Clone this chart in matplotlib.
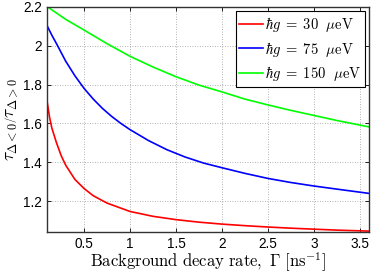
import matplotlib
matplotlib.use("Agg")
import matplotlib.pyplot as plt

plt.rcParams['mathtext.fontset'] = 'cm'
plt.rcParams['font.family'] = ['Liberation Sans', 'DejaVu Sans']

gamma_red = [0.1, 0.125, 0.15, 0.2, 0.25, 0.3, 0.4, 0.5, 0.6, 0.75, 1.0, 1.25, 1.5,
             1.75, 2.0, 2.25, 2.5, 2.75, 3.0, 3.25, 3.6]
ratio_red = [1.705, 1.63, 1.575, 1.50, 1.435, 1.385, 1.312, 1.265, 1.228, 1.19, 1.147,
             1.122, 1.105, 1.092, 1.082, 1.074, 1.067, 1.061, 1.056, 1.051, 1.046]

gamma_blue = [0.1, 0.15, 0.2, 0.3, 0.4, 0.5, 0.6, 0.7, 0.8, 0.9, 1.0, 1.2, 1.4, 1.6,
              1.8, 2.0, 2.25, 2.5, 2.75, 3.0, 3.25, 3.6]
ratio_blue = [2.10, 2.053, 2.01, 1.92, 1.845, 1.78, 1.725, 1.677, 1.636, 1.60, 1.568,
              1.512, 1.465, 1.427, 1.396, 1.372, 1.343, 1.317, 1.296, 1.278, 1.262, 1.24]

gamma_green = [0.1, 0.3, 0.5, 0.75, 1.0, 1.25, 1.5, 1.75, 2.0, 2.25, 2.5, 2.75, 3.0,
               3.25, 3.6]
ratio_green = [2.20, 2.135, 2.08, 2.01, 1.945, 1.89, 1.84, 1.797, 1.762, 1.725, 1.695,
               1.667, 1.641, 1.615, 1.582]

labels = [r'$\hbar g\;=\;30\ \ \mu\mathrm{eV}$',
          r'$\hbar g\;=\;75\ \ \mu\mathrm{eV}$',
          r'$\hbar g\;=\;150\ \ \mu\mathrm{eV}$']
colors = ['#ff0000', '#0000ff', '#00ff00']

xticks = [0.5, 1, 1.5, 2, 2.5, 3, 3.5]
xticklabels = ['0.5', '1', '1.5', '2', '2.5', '3', '3.5']
yticks = [1.2, 1.4, 1.6, 1.8, 2.0, 2.2]
yticklabels = ['1.2', '1.4', '1.6', '1.8', '2', '2.2']

fig = plt.figure(figsize=(3.74, 2.75), dpi=100)
ax = fig.add_axes([0.1265, 0.1575, 0.86, 0.818])

for g, r, c, lab in zip([gamma_red, gamma_blue, gamma_green],
                        [ratio_red, ratio_blue, ratio_green], colors, labels):
    ax.plot(g, r, color=c, lw=1.2, label=lab)

ax.set_xlim(0.1, 3.6)
ax.set_ylim(1.043, 2.2)
ax.set_xticks(xticks)
ax.set_xticklabels(xticklabels)
ax.set_yticks(yticks)
ax.set_yticklabels(yticklabels)
ax.tick_params(direction='in', length=3, width=0.6, top=True, right=True,
               labelsize=9.8, pad=4)
ax.tick_params(axis='x', pad=3.5)
ax.grid(True, linestyle=(0, (1, 2)), color='#999999', lw=0.6)
for s in ax.spines.values():
    s.set_linewidth(1.0)
    s.set_color('#333333')

ax.set_xlabel(r'$\mathrm{Background\ decay\ rate,}\ \Gamma\ [\mathrm{ns}^{-1}]$',
              fontsize=12.0, labelpad=0)
ax.set_ylabel(r'$\left.\tau_{\Delta<0}\right/\tau_{\Delta>0}$', fontsize=12.5,
              labelpad=1)

leg = ax.legend(loc='upper right', fontsize=10.5, frameon=True, fancybox=False,
                edgecolor='black', framealpha=1, handlelength=1.6, handletextpad=0.15,
                borderpad=0.25, labelspacing=0.4, borderaxespad=0.3)
leg.get_frame().set_linewidth(0.8)

fig.savefig('out.png', dpi=100)
